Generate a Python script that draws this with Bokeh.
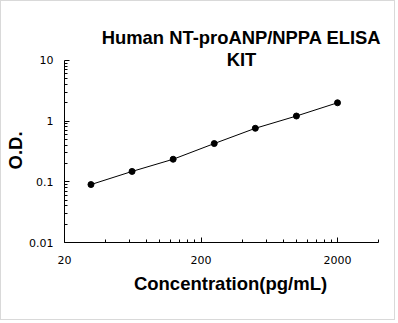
from bokeh.plotting import figure
from bokeh.models import FixedTicker, Label, Range1d, Title
from bokeh.embed import file_html
from bokeh.resources import INLINE

concentration = [31.25, 62.5, 125, 250, 500, 1000, 2000]
od = [0.090, 0.148, 0.235, 0.426, 0.76, 1.21, 2.0]
x_major = [20, 200, 2000]
x_minor = [40, 60, 80, 100, 120, 140, 160, 180, 400, 600, 800, 1000, 1200, 1400, 1600, 1800, 4000]
y_major = [0.01, 0.1, 1, 10]
y_minor = [k * d for d in (0.01, 0.1, 1) for k in range(2, 10)]
title_lines = ["Human NT-proANP/NPPA ELISA", "KIT"]
x_title = "Concentration(pg/mL)"
y_title = "O.D."

W, H = 395, 320          # canvas inside a 1px border
FL, FB, FT = 62, 241, 19  # frame left / bottom / top in canvas pixels
X_DEC = 137.3  # px per decade on x
Y_DEC = 61.0   # px per decade on y
x_hi = 4000 * 10 ** ((W - (FL + 315)) / X_DEC)   # frame extends to right canvas edge
y_hi = 10 * 10 ** ((59 - FT) / Y_DEC)            # frame extends above the "10" tick

p = figure(width=W, height=H, x_axis_type="log", y_axis_type="log",
           x_range=Range1d(20, x_hi), y_range=Range1d(0.01, y_hi),
           output_backend="svg", toolbar_location=None,
           min_border_left=FL, min_border_right=0, min_border_top=FT,
           min_border_bottom=H - FB)
p.styles = {"border": "1px solid #d9d9d9"}
p.grid.visible = False
p.outline_line_color = None
p.background_fill_color = "white"
p.border_fill_color = "white"

p.line(concentration, od, line_color="black", line_width=1)
p.scatter(concentration, od, size=6, fill_color="black", line_color="black")

for ax, major, minor, bounds in ((p.xaxis[0], x_major, x_minor, (20, 4000)),
                                 (p.yaxis[0], y_major, y_minor, (0.01, 10))):
    ax.ticker = FixedTicker(ticks=major, minor_ticks=minor)
    ax.bounds = bounds
    ax.major_tick_in = 5
    ax.major_tick_out = 0
    ax.minor_tick_in = 3
    ax.minor_tick_out = 0
    ax.axis_line_color = "black"
    ax.major_tick_line_color = "black"
    ax.minor_tick_line_color = "black"
    ax.major_label_text_font = "DejaVu Sans"
    ax.major_label_text_font_size = "11px"
    ax.major_label_text_color = "black"

p.xaxis[0].major_label_overrides = {20: "20", 200: "200", 2000: "2000"}
p.yaxis[0].major_label_overrides = {0.01: "0.01", 0.1: "0.1", 1: "1", 10: "10"}
p.xaxis[0].major_label_standoff = 13
p.yaxis[0].major_label_standoff = 11

title_kw = dict(text_font="Liberation Sans", text_font_size="18.5px",
                text_font_style="bold", text_color="black")
p.add_layout(Title(text=x_title, align="center", standoff=8, **title_kw), "below")
p.add_layout(Title(text=y_title, align="left", offset=73, standoff=2, **title_kw), "left")

label_kw = dict(x_units="screen", y_units="screen", text_align="center",
                text_baseline="alphabetic", text_font="Liberation Sans",
                text_font_size="18.4px", text_font_style="bold", text_color="black")
for i, t in enumerate(title_lines):
    p.add_layout(Label(x=239 - FL, y=FB - 44 - 22 * i + 8, text=t, **label_kw))

open("out.html", "w").write(file_html(p, INLINE))
